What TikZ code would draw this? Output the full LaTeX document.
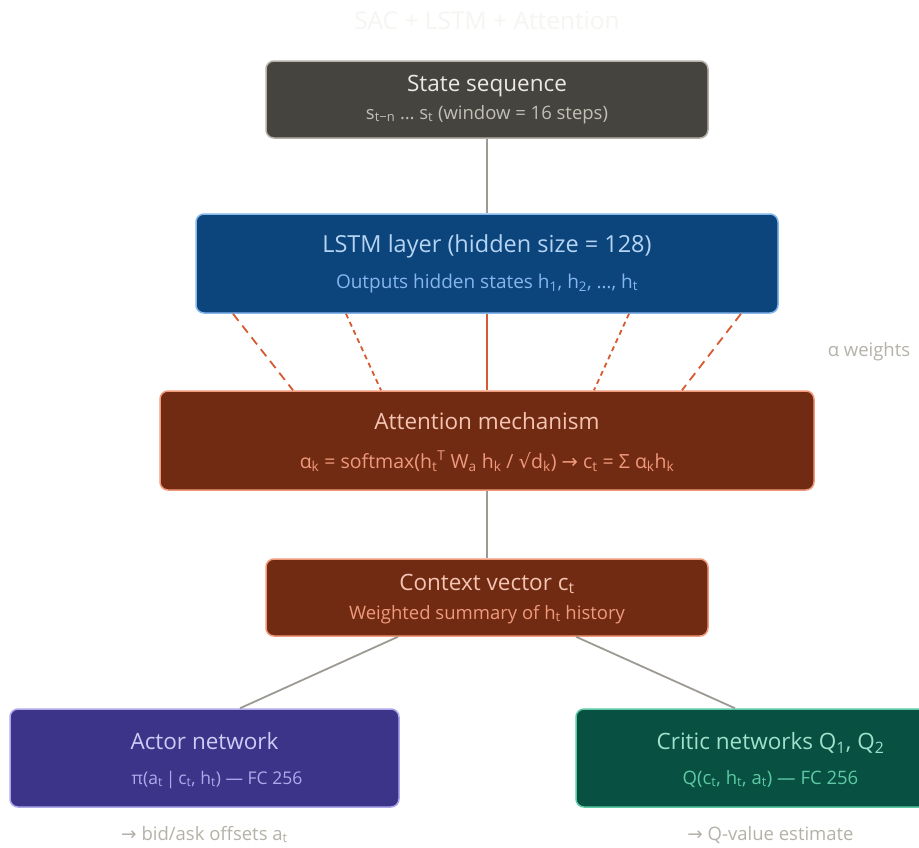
\documentclass[tikz,border=0pt]{standalone}
\usepackage{fontspec}
\setmainfont{Open Sans}
\newfontfamily\symf{DejaVu Sans}
\definecolor{stfill}{HTML}{45443E}
\definecolor{stdraw}{HTML}{B4B2A8}
\definecolor{sttext}{HTML}{ECEAE2}
\definecolor{stsub}{HTML}{C2BFB5}
\definecolor{lsfill}{HTML}{0C447C}
\definecolor{lsdraw}{HTML}{85B7EB}
\definecolor{lstext}{HTML}{B5D4F4}
\definecolor{atfill}{HTML}{712B13}
\definecolor{atdraw}{HTML}{F0997B}
\definecolor{attext}{HTML}{F5C4B3}
\definecolor{acfill}{HTML}{3C3489}
\definecolor{acdraw}{HTML}{AFA9EC}
\definecolor{actext}{HTML}{CECBF6}
\definecolor{crfill}{HTML}{085041}
\definecolor{crdraw}{HTML}{5DCAA5}
\definecolor{crtext}{HTML}{9FE1CB}
\definecolor{conn}{HTML}{9C9A92}
\definecolor{orng}{HTML}{D85A30}
\definecolor{note}{HTML}{B4B2A8}
\definecolor{ttl}{HTML}{F6F5F1}
\begin{document}
\begin{tikzpicture}[x=1pt,y=-1pt,
  box/.style={draw, rounded corners=8pt, line width=1.5pt, inner sep=0pt},
  ttext/.style={font=\fontsize{22.5}{26}\selectfont, inner sep=0pt, anchor=base},
  stext/.style={font=\fontsize{18.5}{22}\selectfont, inner sep=0pt, anchor=base},
  link/.style={draw=conn, line width=1.8pt},
  att/.style={draw=orng, line width=1.8pt}]
\useasboundingbox (0,0) rectangle (919,847);
\fill[white] (0,0) rectangle (919,847);
\node[ttext, text=ttl, font=\fontsize{24.5}{28}\selectfont] (title) at (487,29) {SAC + LSTM + Attention};

\node[box, fill=stfill, draw=stdraw, minimum width=442pt, minimum height=77pt] (state) at (487,99.5) {};
\node[ttext, text=sttext] (stateT) at (487,91) {State sequence};
\node[stext, text=stsub] (stateS) at (487,119) {s\textsubscript{t−n} … s\textsubscript{t} (window = 16 steps)};

\node[box, fill=lsfill, draw=lsdraw, minimum width=582pt, minimum height=99pt] (lstm) at (487,263.5) {};
\node[ttext, text=lstext, font=\fontsize{23.5}{27}\selectfont] (lstmT) at (487,252) {LSTM layer (hidden size = 128)};
\node[stext, text=lsdraw, font=\fontsize{19}{22}\selectfont] (lstmS) at (487,288) {Outputs hidden states h\textsubscript{1}, h\textsubscript{2}, …, h\textsubscript{t}};

\node[box, fill=atfill, draw=atdraw, minimum width=654pt, minimum height=99pt] (attn) at (487,440.5) {};
\node[ttext, text=attext] (attnT) at (487,429) {Attention mechanism};
\node[stext, text=atdraw, font=\fontsize{19.5}{22}\selectfont] (attnS) at (487,468) {α\textsubscript{k} = softmax(h\textsubscript{t}\textsuperscript{T} W\textsubscript{a} h\textsubscript{k} / {\symf √}d\textsubscript{k}) {\symf →} c\textsubscript{t} = Σ α\textsubscript{k}h\textsubscript{k}};

\node[box, fill=atfill, draw=atdraw, minimum width=442pt, minimum height=77pt] (ctx) at (487,597.5) {};
\node[ttext, text=attext] (ctxT) at (487,590) {Context vector c\textsubscript{t}};
\node[stext, text=atdraw] (ctxS) at (487,619) {Weighted summary of h\textsubscript{t} history};

\node[box, fill=acfill, draw=acdraw, minimum width=389pt, minimum height=98pt] (actor) at (204.5,758) {};
\node[ttext, text=actext] (actorT) at (204.5,749) {Actor network};
\node[stext, text=acdraw, font=\fontsize{17.5}{21}\selectfont] (actorS) at (217,784) {π(a\textsubscript{t}\,|\,c\textsubscript{t}, h\textsubscript{t}) — FC 256};
\node[stext, text=note] (actorN) at (204.5,840) {{\symf →} bid/ask offsets a\textsubscript{t}};

\node[box, fill=crfill, draw=crdraw, minimum width=389pt, minimum height=98pt] (critic) at (770.5,758) {};
\node[ttext, text=crtext] (criticT) at (770.5,749) {Critic networks Q\textsubscript{1}, Q\textsubscript{2}};
\node[stext, text=crdraw] (criticS) at (770.5,784) {Q(c\textsubscript{t}, h\textsubscript{t}, a\textsubscript{t}) — FC 256};
\node[stext, text=note] (criticN) at (770.5,840) {{\symf →} Q-value estimate};

\node[stext, text=note] (alpha) at (869,356) {α weights};

\draw[link] (state.south) -- (lstm.north);
\draw[att] (lstm.south) -- (attn.north);
\draw[att, dash pattern=on 9pt off 6pt] ([xshift=-254pt]lstm.south) -- ([xshift=-194pt]attn.north);
\draw[att, dash pattern=on 5pt off 4pt] ([xshift=-141pt]lstm.south) -- ([xshift=-106pt]attn.north);
\draw[att, dash pattern=on 5pt off 4pt] ([xshift=142pt]lstm.south) -- ([xshift=107pt]attn.north);
\draw[att, dash pattern=on 9pt off 6pt] ([xshift=254pt]lstm.south) -- ([xshift=195pt]attn.north);
\draw[link] (attn.south) -- (ctx.north);
\draw[link] ([xshift=-89pt]ctx.south) -- ([xshift=35.5pt]actor.north);
\draw[link] ([xshift=89pt]ctx.south) -- ([xshift=-35.5pt]critic.north);
\end{tikzpicture}
\end{document}
